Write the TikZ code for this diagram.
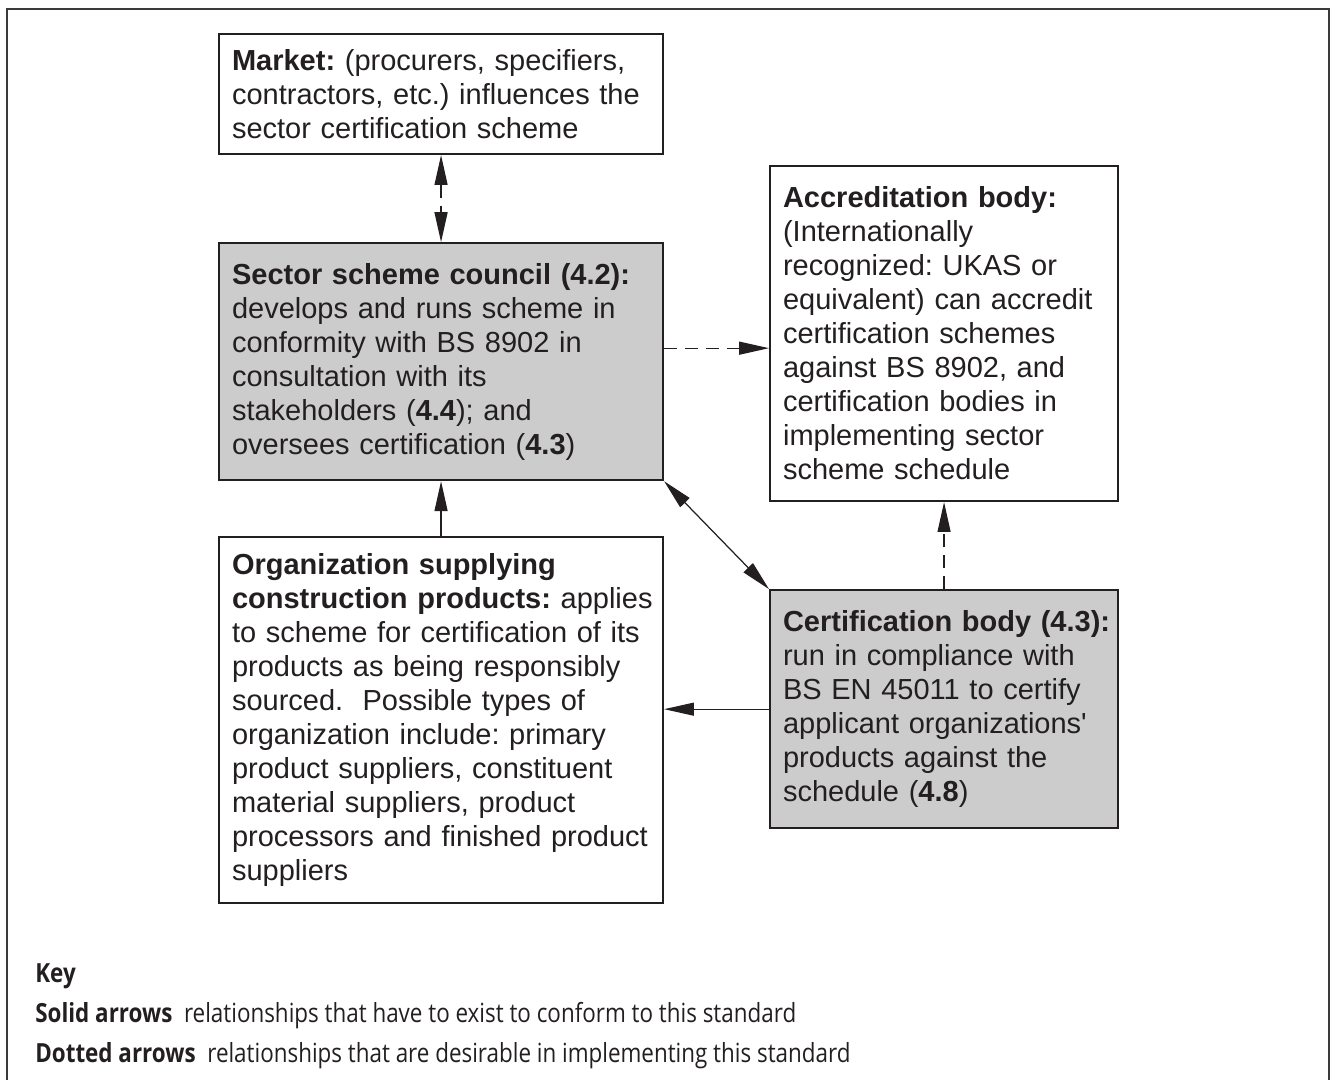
\documentclass[tikz,border=0pt]{standalone}
\usepackage{fontspec}
\setmainfont{Liberation Sans}
\newfontfamily\keyfont[FakeStretch=0.85]{Open Sans}
\usetikzlibrary{positioning,arrows.meta}
\definecolor{ink}{HTML}{231F20}
\definecolor{frame}{HTML}{3A3A3A}
\definecolor{shade}{HTML}{CCCCCC}
\frenchspacing
\hyphenpenalty=10000
\newcommand{\fullline}[1]{\makebox[\linewidth][l]{#1}}

\begin{document}
\begin{tikzpicture}[
  node distance=1.74cm and 2.14cm,
  every node/.style={text=ink,inner sep=0pt},
  box/.style={draw=ink,line width=1.2pt,fill=white,align=left,
    font=\fontsize{16.5}{19.35}\selectfont,inner xsep=0.26cm,
    minimum width=8.88cm,text width=8.36cm},
  narrowbox/.style={box,minimum width=6.96cm,text width=6.44cm},
  shadebox/.style={fill=shade},
  keytext/.style={font=\keyfont\fontsize{15}{18}\selectfont,anchor=base west},
  tip/.style={-{Triangle[length=17pt,width=7.4pt]}},
  bothtips/.style={{Triangle[length=17pt,width=7.4pt]}-{Triangle[length=17pt,width=7.4pt]}},
  solidarrow/.style={draw=ink,line width=0.7pt},
  dasharrow/.style={draw=ink,line width=0.7pt,dash pattern=on 7.4pt off 4.5pt}
]
\useasboundingbox (0,0) rectangle (26.7,-21.58);
\draw[frame,line width=1.1pt] (0.14,-21.7) -- (0.14,-0.18) -- (26.58,-0.18) -- (26.58,-21.7);

% boxes
\node[box,minimum height=2.4cm,anchor=north west] (market) at (4.36,-0.66)
  {\textbf{Market:} (procurers, specifiers,\\contractors, etc.) influences the\\sector certification scheme};
\node[box,shadebox,minimum height=4.74cm,below=of market] (council)
  {\textbf{Sector scheme council (4.2):}\\develops and runs scheme in\\conformity with BS 8902 in\\consultation with its\\stakeholders (\textbf{4.4}); and\\oversees certification (\textbf{4.3})};
\node[box,minimum height=7.32cm,below=1.1cm of council] (org)
  {\textbf{Organization supplying}\\\fullline{\textbf{construction products:} applies}\\to scheme for certification of its\\products as being responsibly\\sourced.\ \ Possible types of\\organization include: primary\\product suppliers, constituent\\material suppliers, product\\processors and finished product\\suppliers};
\node[narrowbox,minimum height=6.7cm,anchor=north west] (accred) at (15.38,-3.3)
  {\textbf{Accreditation body:}\\(Internationally\\recognized: UKAS or\\equivalent) can accredit\\certification schemes\\against BS 8902, and\\certification bodies in\\implementing sector\\scheme schedule};
\node[narrowbox,shadebox,minimum height=4.76cm,below=of accred] (cert)
  {\fullline{\textbf{Certification body (4.3):}}\\run in compliance with\\BS EN 45011 to certify\\applicant organizations\textquotesingle\\products against the\\schedule (\textbf{4.8})};

% connectors
\draw[dasharrow,bothtips] (market.south) -- (council.north);
\draw[dasharrow,tip] ([yshift=2.7mm]council.east) -- ([yshift=2.7mm]council.east -| accred.west);
\draw[solidarrow,tip] (org.north) -- (council.south);
\draw[solidarrow,bothtips] (council.south east) -- (cert.north west);
\draw[dasharrow,tip] (cert.north) -- (accred.south);
\draw[solidarrow,tip] (cert.west) -- (cert.west -| org.east);

% key
\node[keytext] (key) at (0.7,-19.64) {\bfseries Key};
\node[keytext] (solid) at (0.7,-20.44) {\textbf{Solid arrows}\ \ relationships that have to exist to conform to this standard};
\node[keytext] (dotted) at (0.7,-21.24) {\textbf{Dotted arrows}\ \ relationships that are desirable in implementing this standard};
\end{tikzpicture}
\end{document}
